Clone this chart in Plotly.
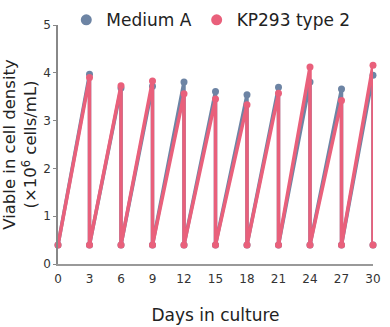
import plotly.graph_objects as go

days = [0, 3, 6, 9, 12, 15, 18, 21, 24, 27, 30]
seed_density = 0.4
medium_a_peaks = [3.97, 3.68, 3.72, 3.81, 3.61, 3.54, 3.70, 3.81, 3.66, 3.95]
kp293_peaks = [3.90, 3.73, 3.83, 3.56, 3.45, 3.33, 3.57, 4.12, 3.42, 4.16]
x_ticks = days
y_ticks = [0, 1, 2, 3, 4, 5]

def sawtooth(peaks):
    xs = [days[0]]
    ys = [seed_density]
    for d, p in zip(days[1:], peaks):
        xs += [d, d]
        ys += [p, seed_density]
    return xs, ys

c_a = "#6d84a4"
c_kp = "#e9607b"
font = "DejaVu Sans"

fig = go.Figure()
xa, ya = sawtooth(medium_a_peaks)
xk, yk = sawtooth(kp293_peaks)
fig.add_trace(go.Scatter(x=xa, y=ya, mode="lines+markers", line=dict(color=c_a, width=3.5),
                         marker=dict(size=7, color=c_a), showlegend=False, cliponaxis=False))
fig.add_trace(go.Scatter(x=xk, y=yk, mode="lines+markers", line=dict(color=c_kp, width=3.5),
                         marker=dict(size=7, color=c_kp), showlegend=False, cliponaxis=False))
fig.add_trace(go.Scatter(x=[None], y=[None], mode="markers", marker=dict(size=11, color=c_a),
                         name="Medium A"))
fig.add_trace(go.Scatter(x=[None], y=[None], mode="markers", marker=dict(size=11, color=c_kp),
                         name="KP293 type 2"))

fig.update_layout(
    width=390, height=327,
    margin=dict(l=58, r=17, t=25, b=63, autoexpand=False),
    paper_bgcolor="white", plot_bgcolor="white",
    font=dict(family=font, color="#333333"),
    legend=dict(orientation="h", x=0.485, xanchor="center", y=1.02, yanchor="middle",
                font=dict(size=17, color="#222222"), itemwidth=30, tracegroupgap=0,
                bgcolor="rgba(0,0,0,0)"),
)
fig.update_xaxes(range=[0, 30], tickvals=x_ticks, showgrid=False, zeroline=False,
                 showline=True, linecolor="#999999", linewidth=1.5, ticks="outside",
                 ticklen=3, tickcolor="white",
                 tickfont=dict(size=12, color="#333333"),
                 title=dict(text="Days in culture", font=dict(size=17, color="#222222"), standoff=24))
fig.update_yaxes(range=[0, 5], tickvals=y_ticks, showgrid=False, zeroline=False,
                 showline=True, linecolor="#888888", linewidth=1.5, ticks="outside",
                 ticklen=3, tickcolor="#888888",
                 tickfont=dict(size=12, color="#333333"),
                 title=dict(text="Viable in cell density<br>(×10<sup>6</sup> cells/mL)",
                            font=dict(size=16.5, color="#222222"), standoff=8))

fig.write_html("out.html")
